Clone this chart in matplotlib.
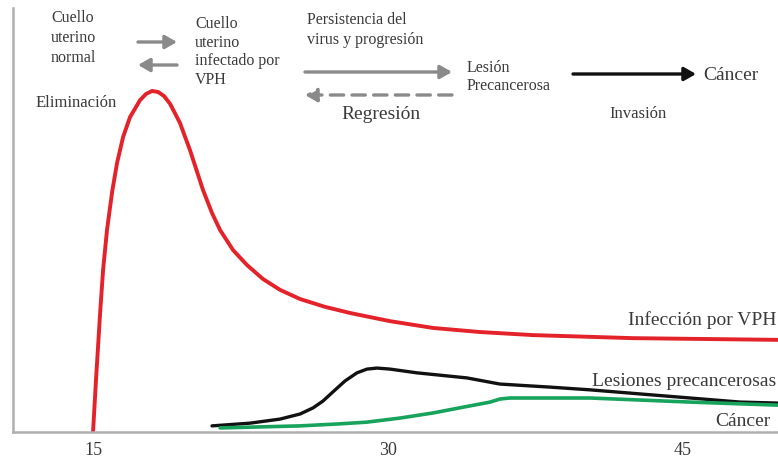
import matplotlib
matplotlib.use("Agg")
import matplotlib.pyplot as plt

# ---- data (age in years vs. relative prevalence, arbitrary units) ----
red_x = [15.0, 15.15, 15.36, 15.51, 15.71, 15.97, 16.22, 16.53, 16.88, 17.39, 17.69, 18.0,
         18.31, 18.61, 18.92, 19.42, 19.93, 20.59, 21.05, 21.46, 22.12, 22.83, 23.64,
         24.51, 25.53, 26.80, 28.07, 30.10, 32.29, 34.68, 37.37, 42.46, 49.83]
red_y = [0, 15.3, 35.0, 47.6, 59.4, 70.6, 79.1, 86.8, 92.6, 97.6, 99.4, 100.3,
         100.0, 98.8, 96.5, 90.9, 82.9, 71.2, 64.4, 59.4, 53.5, 49.1, 45.0,
         41.8, 39.1, 36.8, 35.0, 32.6, 30.6, 29.4, 28.5, 27.6, 27.1]

black_x = [21.05, 22.98, 24.51, 25.53, 26.19, 26.69, 27.20, 27.81, 28.42, 28.93, 29.44,
           30.10, 31.47, 34.02, 35.69, 38.24, 40.27, 42.81, 45.36, 47.90, 49.83]
black_y = [1.8, 2.6, 3.8, 5.3, 7.1, 9.1, 11.8, 15.0, 17.4, 18.5, 18.8,
           18.5, 17.4, 15.9, 14.1, 13.2, 12.4, 11.2, 10.0, 8.8, 8.5]

green_x = [21.46, 23.49, 25.53, 27.56, 28.93, 30.61, 32.29, 33.91, 35.19, 35.69, 36.20,
           40.27, 45.36, 49.83]
green_y = [1.2, 1.5, 1.8, 2.4, 2.9, 4.1, 5.6, 7.4, 8.8, 9.7, 10.0,
           10.0, 8.8, 7.9]

xticks = [15, 30, 45]
xtick_labels = ["15", "30", "45"]

series_labels = ["Infección por VPH", "Lesiones precancerosas", "Cáncer"]

W, H = 778, 459
fig = plt.figure(figsize=(W / 100, H / 100), dpi=100)
ax = fig.add_axes([13 / W, 1 - 432 / H, 1 - 13 / W, (432 - 8) / H])

serif = ["Liberation Serif", "DejaVu Serif"]
txt_col = "#3a3a3a"

kw = dict(solid_capstyle="round", solid_joinstyle="round")
ax.plot(red_x, red_y, color="#e3222a", lw=2.8, **kw)
ax.plot(black_x, black_y, color="#111111", lw=2.4, **kw)
ax.plot(green_x, green_y, color="#17a35c", lw=2.6, **kw)

ax.set_xlim(10.93, 49.83)
ax.set_ylim(0, 124.7)
ax.set_xticks(xticks)
ax.set_xticklabels(xtick_labels, fontfamily=serif, fontsize=13, color=txt_col)
ax.tick_params(axis="x", length=0, pad=7)
ax.set_yticks([])
for s in ["top", "right"]:
    ax.spines[s].set_visible(False)
for s in ["left", "bottom"]:
    ax.spines[s].set_color("#b0b0b0")
    ax.spines[s].set_linewidth(1.8)


def P(px, py):
    return (px / W, 1 - py / H)


def t(px, py, s, size=12, ha="left", va="center", ls=1.0):
    fig.text(*P(px, py), s, fontfamily=serif, fontsize=size, color=txt_col,
             ha=ha, va=va, linespacing=ls)


def arrow(x0, y0, x1, y1, color, ls="-", lw=2.4):
    ax.annotate("", xy=P(x1, y1), xytext=P(x0, y0), xycoords="figure fraction",
                textcoords="figure fraction",
                arrowprops=dict(arrowstyle="-|>,head_length=0.7,head_width=0.4",
                                color=color, lw=lw, linestyle=ls, shrinkA=0, shrinkB=0))


# top process labels
t(51, 38, "Cuello\nuterino\nnormal", size=11.5, ls=1.3)
t(195, 52, "Cuello\nuterino\ninfectado por\nVPH", size=11.5, ls=1.2)
t(307, 30, "Persistencia del\nvirus y progresión", size=11.5, ls=1.3)
t(467, 77, "Lesión\nPrecancerosa", size=11.5, ls=1.1)
t(703, 75, "Cáncer", size=14)
t(638, 114, "Invasión", size=12, ha="center")
t(381, 115, "Regresión", size=14, ha="center")
t(36, 103, "Eliminación", size=12)

arrow(138, 42, 177, 42, "#8a8a8a")
arrow(177, 65, 138, 65, "#8a8a8a")
arrow(305, 72, 452, 72, "#8a8a8a")
arrow(452, 95, 305, 95, "#8a8a8a", ls=(0, (4, 2.5)))
arrow(573, 74, 696, 74, "#111111")

# series labels
t(776, 320, series_labels[0], size=14, ha="right")
t(776, 381, series_labels[1], size=14, ha="right")
t(770, 421, series_labels[2], size=14, ha="right")

fig.savefig("out.png", dpi=100)
